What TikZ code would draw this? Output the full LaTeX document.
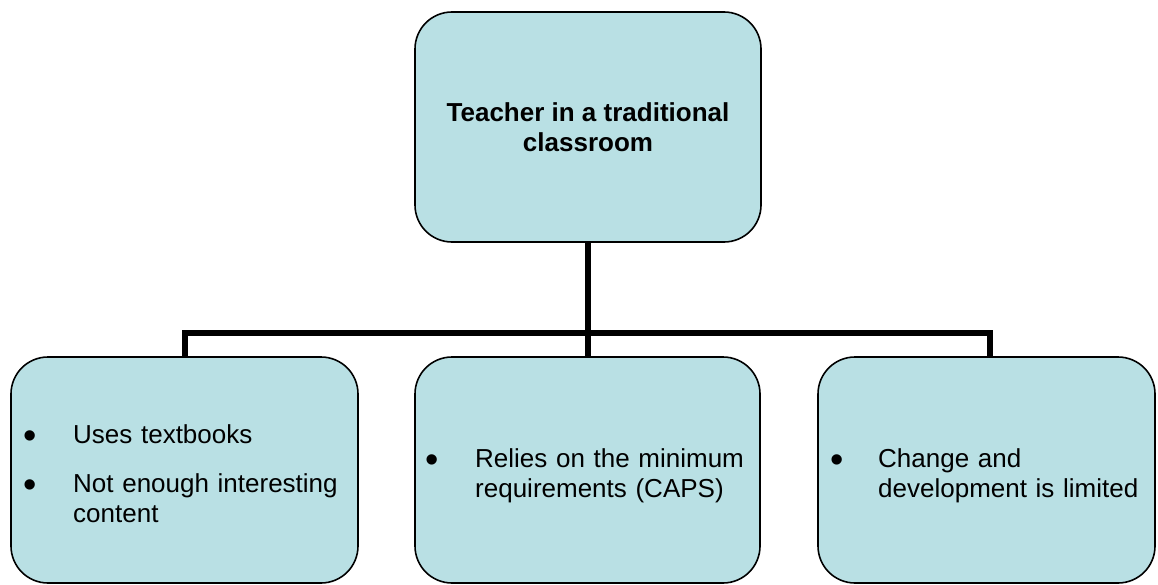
\documentclass[tikz,border=0pt]{standalone}
\usepackage{fontspec}
\setmainfont{Liberation Sans}
\hyphenpenalty=10000
\exhyphenpenalty=10000
\definecolor{boxblue}{RGB}{185,224,228}
\begin{document}
\begin{tikzpicture}[x=1pt,y=-1pt,
  box/.style={draw=black, line width=1.6pt, fill=boxblue, rounded corners=37pt,
    inner sep=0pt, minimum height=226pt},
  conn/.style={draw=black, line width=6pt, line join=miter},
  bul/.style={anchor=base, inner sep=0pt, font=\fontsize{38}{30}\selectfont},
  itm/.style={anchor=base west, inner sep=0pt, text width=272pt, align=left,
    font=\fontsize{26}{30}\selectfont}]
\useasboundingbox (0,0) rectangle (1158,585);
% boxes
\node[box, minimum width=346pt, minimum height=230pt] (top) at (588,127) {};
\node[box, minimum width=347pt] (left) at (184.5,470) {};
\node[box, minimum width=345pt] (mid) at (587.5,470) {};
\node[box, minimum width=337pt] (right) at (986.5,470) {};
% connectors
\coordinate (hub) at (588,333);
\draw[conn] (top.south) -- (hub);
\draw[conn] (left.north) -- (left.north |- hub) -- ([xshift=3.5pt]right.north |- hub) -- ([xshift=3.5pt]right.north);
\draw[conn] (mid.north) -- (mid.north |- hub);
% texts
\node[inner sep=0pt, align=center, font=\bfseries\fontsize{26}{30}\selectfont] (toptext) at (top) {Teacher in a traditional\\classroom};
\node[bul] (lb1) at (30,448) {•};
\node[itm] (lt1) at (73,443) {Uses textbooks};
\node[bul] (lb2) at (30,497) {•};
\node[itm] (lt2) at (73,492) {Not enough interesting content};
\node[bul] (mb1) at (432,472) {•};
\node[itm] (mt1) at (475,467) {Relies on the minimum requirements (CAPS)};
\node[bul] (rb1) at (837,472) {•};
\node[itm] (rt1) at (878,467) {Change and development is limited};
\end{tikzpicture}
\end{document}
